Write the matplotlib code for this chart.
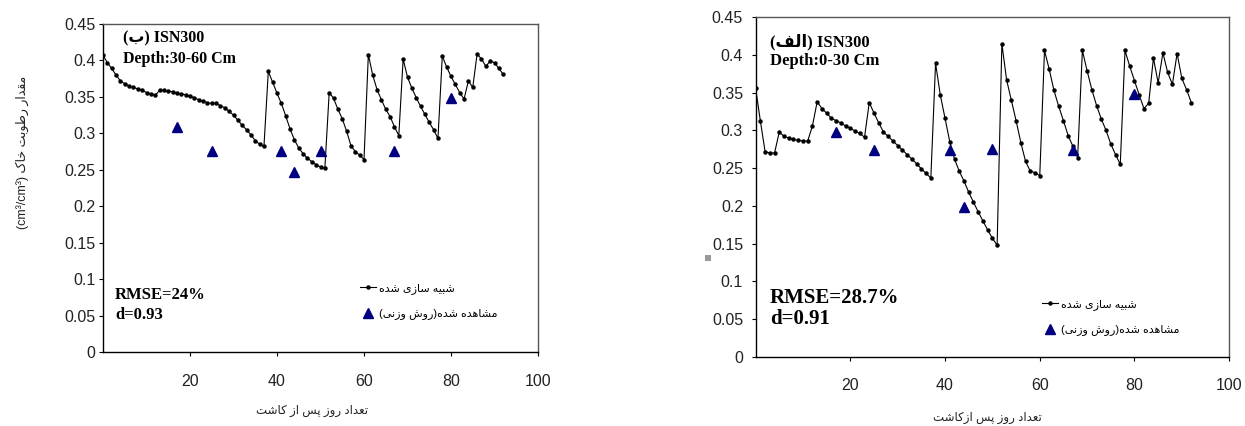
#!/usr/bin/env python3
"""
Soil moisture (ISN300): simulated vs observed, two depths side by side.
Right panel (alef) 0-30 cm, left panel (be) 30-60 cm.
"""

import matplotlib
matplotlib.use("Agg")
import matplotlib.pyplot as plt
from matplotlib.patches import Rectangle


# --- data ---------------------------------------------------------------
DAYS = list(range(0, 93))

SIM_30_60 = [
    0.407, 0.397, 0.389, 0.380, 0.372, 0.368, 0.365, 0.363, 0.361, 0.359,
    0.356, 0.354, 0.352, 0.359, 0.359, 0.358, 0.357, 0.355, 0.354, 0.353,
    0.351, 0.349, 0.346, 0.344, 0.342, 0.341, 0.341, 0.338, 0.335, 0.330,
    0.325, 0.318, 0.311, 0.305, 0.298, 0.290, 0.285, 0.282, 0.385, 0.370,
    0.355, 0.341, 0.324, 0.306, 0.291, 0.280, 0.272, 0.266, 0.261, 0.257,
    0.254, 0.252, 0.356, 0.348, 0.333, 0.320, 0.303, 0.283, 0.275, 0.270,
    0.264, 0.408, 0.380, 0.360, 0.346, 0.333, 0.323, 0.309, 0.297, 0.402,
    0.377, 0.362, 0.349, 0.337, 0.326, 0.315, 0.305, 0.293, 0.406, 0.391,
    0.378, 0.367, 0.356, 0.347, 0.372, 0.363, 0.409, 0.402, 0.392, 0.399,
    0.397, 0.389, 0.381,
]

SIM_0_30 = [
    0.356, 0.313, 0.272, 0.270, 0.270, 0.298, 0.292, 0.290, 0.288, 0.287,
    0.286, 0.286, 0.306, 0.338, 0.329, 0.323, 0.316, 0.313, 0.310, 0.306,
    0.303, 0.299, 0.296, 0.291, 0.337, 0.323, 0.310, 0.298, 0.292, 0.286,
    0.280, 0.274, 0.268, 0.262, 0.256, 0.249, 0.243, 0.237, 0.389, 0.347,
    0.316, 0.285, 0.262, 0.246, 0.233, 0.218, 0.205, 0.192, 0.180, 0.168,
    0.157, 0.148, 0.415, 0.367, 0.340, 0.313, 0.284, 0.259, 0.246, 0.244,
    0.240, 0.406, 0.381, 0.353, 0.332, 0.313, 0.293, 0.279, 0.264, 0.406,
    0.379, 0.354, 0.333, 0.315, 0.300, 0.282, 0.268, 0.255, 0.406, 0.385,
    0.366, 0.347, 0.329, 0.336, 0.396, 0.363, 0.403, 0.377, 0.361, 0.402,
    0.369, 0.354, 0.337,
]

OBS_DAYS = [17, 25, 41, 44, 50, 67, 80]
OBS_30_60 = [0.309, 0.276, 0.276, 0.247, 0.276, 0.276, 0.349]
OBS_0_30 = [0.298, 0.274, 0.274, 0.198, 0.275, 0.274, 0.348]

Y_TICKS = [0, 0.05, 0.1, 0.15, 0.2, 0.25, 0.3, 0.35, 0.4, 0.45]
Y_TICKLABELS = ["0", "0.05", "0.1", "0.15", "0.2", "0.25", "0.3", "0.35", "0.4", "0.45"]
X_TICKS = [20, 40, 60, 80, 100]

LBL_SIM = "شبیه سازی شده"
LBL_OBS = "مشاهده شده(روش وزنی)"
XLABEL_L = "تعداد روز پس از کاشت"
XLABEL_R = "تعداد روز پس ازکاشت"
YLABEL = "مقدار رطوبت خاک"

W, H = 1245, 426

# --- minimal persian shaping (matplotlib 3.10 has no bidi/shaping) -------
FORMS = {
    "ا": ("\uFE8D", "\uFE8E", None, None),
    "ب": ("\uFE8F", "\uFE90", "\uFE91", "\uFE92"),
    "پ": ("\uFB56", "\uFB57", "\uFB58", "\uFB59"),
    "ت": ("\uFE95", "\uFE96", "\uFE97", "\uFE98"),
    "خ": ("\uFEA5", "\uFEA6", "\uFEA7", "\uFEA8"),
    "د": ("\uFEA9", "\uFEAA", None, None),
    "ر": ("\uFEAD", "\uFEAE", None, None),
    "ز": ("\uFEAF", "\uFEB0", None, None),
    "س": ("\uFEB1", "\uFEB2", "\uFEB3", "\uFEB4"),
    "ش": ("\uFEB5", "\uFEB6", "\uFEB7", "\uFEB8"),
    "ط": ("\uFEC1", "\uFEC2", "\uFEC3", "\uFEC4"),
    "ع": ("\uFEC9", "\uFECA", "\uFECB", "\uFECC"),
    "ف": ("\uFED1", "\uFED2", "\uFED3", "\uFED4"),
    "ق": ("\uFED5", "\uFED6", "\uFED7", "\uFED8"),
    "ک": ("\uFB8E", "\uFB8F", "\uFB90", "\uFB91"),
    "ل": ("\uFEDD", "\uFEDE", "\uFEDF", "\uFEE0"),
    "م": ("\uFEE1", "\uFEE2", "\uFEE3", "\uFEE4"),
    "ن": ("\uFEE5", "\uFEE6", "\uFEE7", "\uFEE8"),
    "ه": ("\uFEE9", "\uFEEA", "\uFEEB", "\uFEEC"),
    "و": ("\uFEED", "\uFEEE", None, None),
    "ی": ("\uFBFC", "\uFBFD", "\uFBFE", "\uFBFF"),
}
RIGHT_ONLY = set("ادذرزژو")


def fa(s):
    out = []
    for i, c in enumerate(s):
        if c not in FORMS:
            out.append(c)
            continue
        prev = s[i - 1] if i > 0 else None
        nxt = s[i + 1] if i + 1 < len(s) else None
        jp = prev in FORMS and prev not in RIGHT_ONLY
        jn = nxt in FORMS and c not in RIGHT_ONLY
        iso, fin, ini, med = FORMS[c]
        if jp and jn:
            out.append(med)
        elif jp:
            out.append(fin)
        elif jn:
            out.append(ini)
        else:
            out.append(iso)
    vis = "".join(reversed(out))
    return vis.translate(str.maketrans("()", ")("))


def px(x, y):
    return x / W, 1 - y / H


def axes_px(fig, x0, y0, x1, y1):
    return fig.add_axes([x0 / W, 1 - y1 / H, (x1 - x0) / W, (y1 - y0) / H])


FA_FONT = ["Liberation Sans", "DejaVu Sans"]
SERIF_B = dict(family="Liberation Serif", weight="bold")


def style_axes(ax, ypad, xpad):
    ax.set_xlim(0, 100)
    ax.set_ylim(0, 0.45)
    ax.set_xticks(X_TICKS)
    ax.set_yticks(Y_TICKS)
    ax.set_yticklabels(Y_TICKLABELS)
    for lab in ax.get_xticklabels() + ax.get_yticklabels():
        lab.set_family("Liberation Sans")
        lab.set_fontsize(11.5)
        lab.set_color("#222222")
    ax.tick_params(axis="y", direction="out", length=3, width=0.8, pad=ypad)
    ax.tick_params(axis="x", direction="out", length=3, width=0.8, pad=xpad)
    ax.spines["left"].set_color("black")
    ax.spines["bottom"].set_color("black")
    ax.spines["top"].set_color("#555555")
    ax.spines["right"].set_color("#555555")
    for s in ax.spines.values():
        s.set_linewidth(1.0)


def draw_panel(ax, sim, obs):
    ln, = ax.plot(DAYS, sim, "-", color="black", linewidth=0.8,
                  marker="o", markersize=2.2, label=fa(LBL_SIM))
    tri, = ax.plot(OBS_DAYS, obs, "^", color="#000080", markersize=7.5,
                   linestyle="none", label=fa(LBL_OBS))
    return ln, tri


def main():
    fig = plt.figure(figsize=(W / 100, H / 100), dpi=100)

    # left panel: depth 30-60
    axl = axes_px(fig, 103, 24, 538, 352)
    hl = draw_panel(axl, SIM_30_60, OBS_30_60)
    style_axes(axl, ypad=2.5, xpad=13)

    # right panel: depth 0-30
    axr = axes_px(fig, 755.6, 17.3, 1229.2, 356.7)
    hr = draw_panel(axr, SIM_0_30, OBS_0_30)
    style_axes(axr, ypad=6, xpad=12)

    # legends
    for ax, handles, (lx, ly) in [(axl, hl, (360, 283)), (axr, hr, (1042, 299))]:
        ax.legend(handles=handles, loc="upper left",
                  bbox_to_anchor=px(lx, ly), bbox_transform=fig.transFigure,
                  frameon=False, prop=dict(family=FA_FONT, size=8),
                  handlelength=1.4, handletextpad=0.3, labelspacing=1.3,
                  borderpad=0, borderaxespad=0, numpoints=1)

    # in-plot annotations
    fig.text(*px(123, 38), "(" + fa("ب") + ") ISN300", fontsize=11.5,
             va="center", ha="left", family=["Liberation Serif", "DejaVu Sans"],
             weight="bold")
    fig.text(*px(123, 59), "Depth:30-60 Cm", fontsize=11.5, va="center",
             ha="left", **SERIF_B)
    fig.text(*px(115, 295), "RMSE=24%", fontsize=12, va="center", ha="left", **SERIF_B)
    fig.text(*px(115, 315), "d=0.93", fontsize=12, va="center", ha="left", **SERIF_B)

    fig.text(*px(770, 42), "(" + fa("الف") + ") ISN300", fontsize=12,
             va="center", ha="left", family=["Liberation Serif", "DejaVu Sans"],
             weight="bold")
    fig.text(*px(770, 61), "Depth:0-30 Cm", fontsize=12, va="center",
             ha="left", **SERIF_B)
    fig.text(*px(770, 298), "RMSE=28.7%", fontsize=15, va="center", ha="left", **SERIF_B)
    fig.text(*px(770, 319), "d=0.91", fontsize=15, va="center", ha="left", **SERIF_B)

    # axis titles
    fig.text(*px(22, 152), "(cm³/cm³) " + fa(YLABEL), rotation=90,
             fontsize=9, va="center", ha="center", family=FA_FONT, color="#222222")
    fig.text(*px(312, 411), fa(XLABEL_L), fontsize=8.5, va="center",
             ha="center", family=FA_FONT, color="#222222")
    fig.text(*px(987, 418), fa(XLABEL_R), fontsize=8.5, va="center",
             ha="center", family=FA_FONT, color="#222222")

    # small grey stray mark left of the right panel
    fx, fy = px(705, 261)
    fig.patches.append(Rectangle((fx, fy), 6 / W, 6 / H, transform=fig.transFigure,
                                 facecolor="#999999", edgecolor="none"))

    fig.savefig("out.png", dpi=100)
    plt.close(fig)


if __name__ == "__main__":
    main()
